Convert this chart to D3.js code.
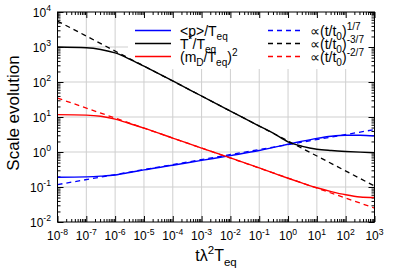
<!DOCTYPE html>
<html>
<head>
<meta charset="utf-8">
<script src="https://cdn.jsdelivr.net/npm/d3@7"></script>
<style>
    body { margin: 0; background: #fff; }
    svg { display: block; font-family: "Liberation Sans", Arial, sans-serif; }
</style>
</head>
<body>
<svg id="chart" width="399" height="279"></svg>
<script>
// sample times (t lambda^2 T_eq) and the three solid curves
const tPoints    = [1e-8, 1e-7, 3.16e-7, 1e-6, 3.16e-6, 1e-5, 1e-4, 1e-3, 1e-2, 1e-1, 0.316, 1, 3.16, 10, 31.6, 100, 316, 1000];
const pOverT     = [0.19, 0.195, 0.204, 0.221, 0.26, 0.309, 0.417, 0.575, 0.79, 1.10, 1.35, 1.66, 2.04, 2.45, 2.82, 3.02, 3.02, 2.88];
const tStarOverT = [1000, 955, 851, 676, 452, 282, 107, 39.8, 14.8, 5.5, 3.39, 1.95, 1.45, 1.20, 1.10, 1.035, 0.99, 0.955];
const mDOverTsq  = [11.7, 11.35, 10.5, 8.7, 6.53, 4.8, 2.5, 1.29, 0.68, 0.35, 0.25, 0.178, 0.129, 0.095, 0.074, 0.060, 0.052, 0.050];

// power-law guides, given by their end points
const fitEnds   = [1e-8, 1e3];
const fitP      = [0.117, 4.37];
const fitTStar  = [5500, 0.107];
const fitMD     = [34.7, 0.025];

const xExponents = [-8, -7, -6, -5, -4, -3, -2, -1, 0, 1, 2, 3];
const yExponents = [-2, -1, 0, 1, 2, 3, 4];

const width = 399, height = 279;
const margin = {left: 57.5, top: 12, right: 24.5, bottom: 57};

const svg = d3.select("#chart");

const x = d3.scaleLog()
    .domain([1e-8, 1e3])
    .range([margin.left, width - margin.right]);

const y = d3.scaleLog()
    .domain([1e-2, 1e4])
    .range([height - margin.bottom, margin.top]);

const x0 = margin.left, x1 = width - margin.right;
const y0 = height - margin.bottom, y1 = margin.top;

const xMajor = xExponents.map(e => Math.pow(10, e));
const yMajor = yExponents.map(e => Math.pow(10, e));
const minorOf = majors => majors.slice(0, -1).flatMap(m => d3.range(2, 10).map(k => m * k));
const xMinor = minorOf(xMajor);
const yMinor = minorOf(yMajor);

// text with sub/superscripts
function richText(sel, parts, size) {
    let shift = 0;
    parts.forEach(([str, kind]) => {
        const target = kind === "sup" ? -0.42 * size : kind === "sub" ? 0.3 * size : 0;
        sel.append("tspan")
            .attr("dy", target - shift)
            .attr("font-size", kind === "n" ? size : size * 0.72)
            .text(str);
        shift = target;
    });
}

// grid
svg.append("g")
    .selectAll("line.gx")
    .data(xMajor.slice(1, -1))
    .join("line")
    .attr("x1", d => x(d)).attr("x2", d => x(d))
    .attr("y1", y0).attr("y2", y1)
    .attr("stroke", "#cfcfcf").attr("stroke-width", 1);

svg.append("g")
    .selectAll("line.gy")
    .data(yMajor.slice(1, -1))
    .join("line")
    .attr("x1", x0).attr("x2", x1)
    .attr("y1", d => y(d)).attr("y2", d => y(d))
    .attr("stroke", "#cfcfcf").attr("stroke-width", 1);

// opaque key background
svg.append("rect")
    .attr("x", 128).attr("y", y1 + 1)
    .attr("width", x1 - 128 - 1).attr("height", 56)
    .attr("fill", "#fff");

// ticks on all four sides, pointing inward
function ticks(axis, transform, values, size) {
    const g = svg.append("g")
        .attr("transform", transform)
        .call(axis.tickValues(values).tickSize(-size).tickFormat(""));
    g.select(".domain").remove();
    g.selectAll(".tick line").attr("stroke", "#000");
}
[[xMajor, 6], [xMinor, 3]].forEach(([vals, s]) => {
    ticks(d3.axisBottom(x), `translate(0,${y0})`, vals, s);
    ticks(d3.axisTop(x), `translate(0,${y1})`, vals, s);
});
[[yMajor, 6], [yMinor, 3]].forEach(([vals, s]) => {
    ticks(d3.axisLeft(y), `translate(${x0},0)`, vals, s);
    ticks(d3.axisRight(y), `translate(${x1},0)`, vals, s);
});

// curves
svg.append("clipPath").attr("id", "plotClip")
    .append("rect").attr("x", x0).attr("y", y1).attr("width", x1 - x0).attr("height", y0 - y1);

const line = d3.line()
    .x(d => x(d[0]))
    .y(d => y(d[1]))
    .curve(d3.curveMonotoneX);

const plot = svg.append("g").attr("clip-path", "url(#plotClip)");

const guides = [[fitP, "#0000ff"], [fitTStar, "#000000"], [fitMD, "#ff0000"]];
guides.forEach(([vals, color]) => {
    plot.append("path")
        .attr("d", line(fitEnds.map((t, i) => [t, vals[i]])))
        .attr("fill", "none")
        .attr("stroke", color)
        .attr("stroke-width", 1.3)
        .attr("stroke-dasharray", "5,4");
});

const solids = [[pOverT, "#0000ff"], [tStarOverT, "#000000"], [mDOverTsq, "#ff0000"]];
solids.forEach(([vals, color]) => {
    plot.append("path")
        .attr("d", line(tPoints.map((t, i) => [t, vals[i]])))
        .attr("fill", "none")
        .attr("stroke", color)
        .attr("stroke-width", 1.4);
});

// frame
svg.append("rect")
    .attr("x", x0).attr("y", y1)
    .attr("width", x1 - x0).attr("height", y0 - y1)
    .attr("fill", "none").attr("stroke", "#000").attr("stroke-width", 1);

// tick labels
xExponents.forEach(e => {
    const t = svg.append("text")
        .attr("x", x(Math.pow(10, e)))
        .attr("y", 240)
        .attr("text-anchor", "middle")
        .attr("fill", "#000");
    richText(t, [["10", "n"], [String(e), "sup"]], 12);
});

yExponents.forEach(e => {
    const t = svg.append("text")
        .attr("x", 51)
        .attr("y", y(Math.pow(10, e)) + 4.5)
        .attr("text-anchor", "end")
        .attr("fill", "#000");
    richText(t, [["10", "n"], [String(e), "sup"]], 12);
});

// axis titles
const xt = svg.append("text")
    .attr("x", 216).attr("y", 261)
    .attr("text-anchor", "middle");
richText(xt, [["t\u03bb", "n"], ["2", "sup"], ["T", "n"], ["eq", "sub"]], 16);

svg.append("text")
    .attr("transform", "translate(19,113) rotate(-90)")
    .attr("text-anchor", "middle")
    .attr("font-size", 17)
    .text("Scale evolution");

// key
const keyRows = [30.5, 43.5, 56.5];
const solidLabels = [
    [["<p>/T", "n"], ["eq", "sub"]],
    [["T", "n"], ["*", "sup"], ["/T", "n"], ["eq", "sub"]],
    [["(m", "n"], ["D", "sub"], ["/T", "n"], ["eq", "sub"], [")", "n"], ["2", "sup"]]
];
const guideLabels = [
    [["\u221d(t/t", "n"], ["0", "sub"], [")", "n"], ["1/7", "sup"]],
    [["\u221d(t/t", "n"], ["0", "sub"], [")", "n"], ["-3/7", "sup"]],
    [["\u221d(t/t", "n"], ["0", "sub"], [")", "n"], ["-2/7", "sup"]]
];
const keyColors = ["#0000ff", "#000000", "#ff0000"];

keyRows.forEach((ry, i) => {
    svg.append("line")
        .attr("x1", 135).attr("x2", 171).attr("y1", ry).attr("y2", ry)
        .attr("stroke", keyColors[i]).attr("stroke-width", 1.4);
    richText(svg.append("text").attr("x", 180).attr("y", ry + 5.5), solidLabels[i], 14);

    svg.append("line")
        .attr("x1", 268).attr("x2", 303).attr("y1", ry).attr("y2", ry)
        .attr("stroke", keyColors[i]).attr("stroke-width", 1.3)
        .attr("stroke-dasharray", "5,4");
    richText(svg.append("text").attr("x", 310).attr("y", ry + 5.5), guideLabels[i], 14);
});
</script>
</body>
</html>
